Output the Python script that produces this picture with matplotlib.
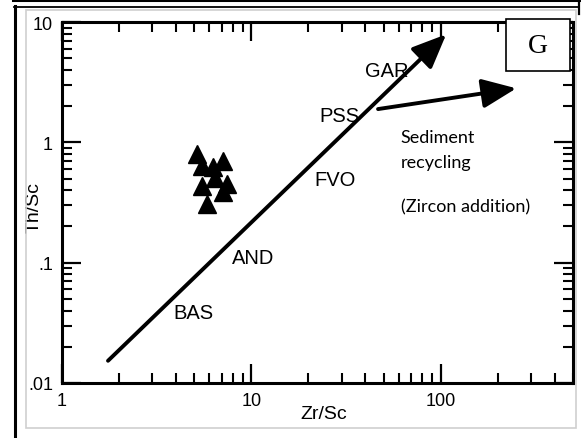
import numpy as np
import matplotlib
matplotlib.use("Agg")
import matplotlib.pyplot as plt
from matplotlib.patches import FancyArrowPatch, Rectangle
from matplotlib.lines import Line2D
from matplotlib.ticker import LogLocator, NullFormatter, FixedLocator

plt.rcParams['font.family'] = ['Liberation Sans', 'DejaVu Sans']

# samples (Zr/Sc, Th/Sc)
zr_sc = [5.14, 5.46, 6.29, 7.10, 6.42, 5.46, 7.40, 7.10, 5.80]
th_sc = [0.80, 0.64, 0.62, 0.70, 0.51, 0.435, 0.45, 0.384, 0.307]

# compositional trend and zircon-addition branch
trend_x = [1.75, 107]
trend_y = [0.0153, 7.9]
branch_x = [46.7, 251]
branch_y = [1.89, 2.81]

# reference compositions along the trend
ref_names = ['BAS', 'AND', 'FVO', 'PSS', 'GAR']
ref_x = [4.93, 10.2, 27.6, 29.3, 51.7]
ref_y = [0.0386, 0.111, 0.495, 1.66, 3.94]

x_ticks = [1, 10, 100]
x_tick_labels = ['1', '10', '100']
y_ticks = [0.01, 0.1, 1, 10]
y_tick_labels = ['.01', '.1', '1', '10']

fig = plt.figure(figsize=(5.81, 4.39), dpi=100)
ax = fig.add_axes([0.1067, 0.1253, 0.8795, 0.8223])

ax.set_xscale('log')
ax.set_yscale('log')
ax.set_xlim(1, 500)
ax.set_ylim(0.01, 10)

narrow = ['Liberation Sans Narrow', 'Liberation Sans', 'DejaVu Sans']
ax.xaxis.set_major_locator(FixedLocator(x_ticks))
ax.set_xticklabels(x_tick_labels, family=narrow)
ax.yaxis.set_major_locator(FixedLocator(y_ticks))
ax.set_yticklabels(y_tick_labels, family=narrow)
ax.xaxis.set_minor_locator(LogLocator(base=10, subs=np.arange(2, 10)))
ax.yaxis.set_minor_locator(LogLocator(base=10, subs=np.arange(2, 10)))
ax.xaxis.set_minor_formatter(NullFormatter())
ax.yaxis.set_minor_formatter(NullFormatter())

ax.tick_params(which='both', direction='in', top=True, right=True, color='black')
ax.tick_params(which='major', length=14, width=1.6, pad=6.5, labelsize=13)
ax.tick_params(which='minor', length=7, width=1.5)
for s in ax.spines.values():
    s.set_linewidth(2.2)

ax.set_xlabel('Zr/Sc', fontsize=14)
ax.set_ylabel('Th/Sc', fontsize=14)
ax.xaxis.set_label_coords(0.513, -0.062)
ax.yaxis.set_label_coords(-0.038, 0.49)

ax.plot(zr_sc, th_sc, linestyle='none', marker='^', markersize=12.5,
        color='black', zorder=4)

for xs, ys in [(trend_x, trend_y), (branch_x, branch_y)]:
    arr = FancyArrowPatch((xs[0], ys[0]), (xs[1], ys[1]),
                          arrowstyle='-|>,head_length=21,head_width=9',
                          mutation_scale=1, linewidth=2.8, color='black',
                          shrinkA=0, shrinkB=0, zorder=3)
    ax.add_patch(arr)

for name, x, y in zip(ref_names, ref_x, ref_y):
    ax.text(x, y, name, fontsize=14.5, ha='center', va='center', zorder=5)

ax.text(61.5, 1.006, 'Sediment', fontsize=13, family=['Lato', 'DejaVu Sans'],
        ha='left', va='baseline')
ax.text(61.5, 0.624, 'recycling', fontsize=13, family=['Lato', 'DejaVu Sans'],
        ha='left', va='baseline')
ax.text(61.5, 0.268, '(Zircon addition)', fontsize=13,
        family=['Lato', 'DejaVu Sans'], ha='left', va='baseline')

# panel letter box
box = Rectangle((0.869, 0.864), 0.125, 0.144, transform=ax.transAxes,
                facecolor='white', edgecolor='black', linewidth=1.2,
                clip_on=False, zorder=10)
ax.add_patch(box)
ax.text(0.9315, 0.936, 'G', transform=ax.transAxes, fontsize=20,
        family=['Liberation Serif', 'DejaVu Serif'], ha='center', va='center',
        zorder=11)

# outer frame around the panel
W, H = 581.0, 439.0
def fx(px):
    return px / W
def fy(py):
    return 1 - py / H

fig.add_artist(Rectangle((fx(26), fy(429)), fx(576) - fx(26), fy(11) - fy(429),
                         transform=fig.transFigure, fill=False,
                         edgecolor='#cfcfcf', linewidth=1.2))
fig.add_artist(Line2D([fx(13), 1], [fy(1), fy(1)], transform=fig.transFigure,
                      color='black', linewidth=2.2))
fig.add_artist(Line2D([fx(14), fx(578)], [fy(7.5), fy(7.5)],
                      transform=fig.transFigure, color='black', linewidth=1.3))
fig.add_artist(Line2D([fx(14.5), fx(14.5)], [fy(7), 0], transform=fig.transFigure,
                      color='black', linewidth=2.2))
fig.add_artist(Line2D([fx(578.5), fx(578.5)], [fy(0), fy(15)],
                      transform=fig.transFigure, color='black', linewidth=1.6))

fig.savefig('out.png', dpi=100)
